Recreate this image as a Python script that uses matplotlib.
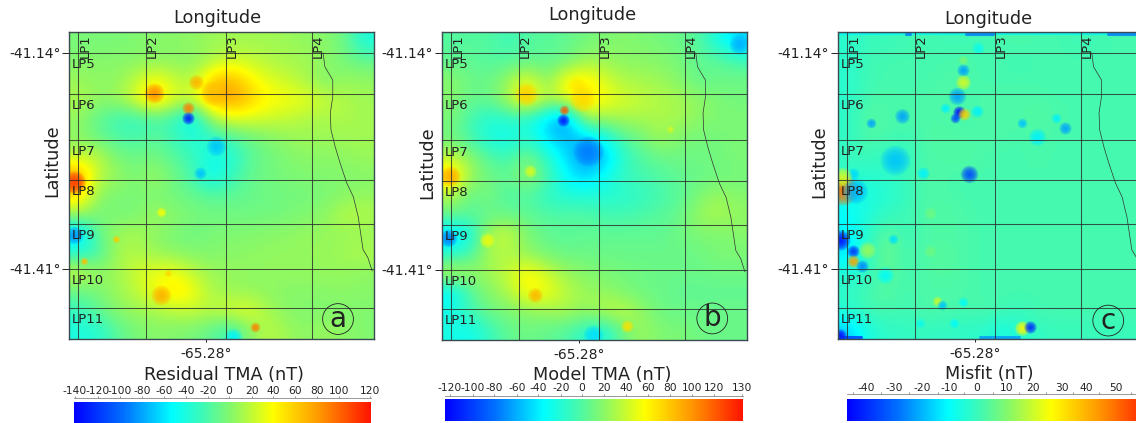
import matplotlib
matplotlib.use("Agg")
import numpy as np
from matplotlib import pyplot as plt
from matplotlib.colors import LinearSegmentedColormap, Normalize

# grid rows run north to south, nT
residual_grid = [
    [-3, -3, -3, 0, 2, 3, 5, 8, 10, 10, 10, 8, 5, 2, -8, -40],
    [0, 2, 2, 2, 3, 3, 2, 12, 25, 22, 15, 12, 10, 5, -5, -10],
    [8, 4, 4, 18, 40, 22, 15, 62, 72, 45, 30, 22, 12, -3, 8, 5],
    [14, 6, 8, 30, 68, 28, 28, 72, 82, 62, 42, 38, 32, 22, 14, 10],
    [6, -12, -25, -28, -22, -25, -55, 10, 30, 28, 24, 20, 14, 12, 14, 10],
    [4, -8, -18, -22, -12, -25, -38, -32, -20, -8, 0, 6, 10, 8, 10, 10],
    [18, 20, -3, -8, -5, -15, -25, -45, -38, -15, -6, 0, 3, 3, 5, 8],
    [85, 18, 8, -3, 10, -6, -22, -50, -28, -10, -5, -2, 0, 0, 0, 2],
    [55, 4, -2, -3, -2, -6, -10, -15, -12, -10, -7, -5, -5, -2, 2, 5],
    [10, -3, -3, -3, 10, 3, -2, -6, -6, -6, -6, -3, 0, 4, 18, 14],
    [-70, -10, 8, 12, 3, -3, -7, -3, 0, 0, 2, 4, 6, 7, 7, 7],
    [-35, -25, 12, 14, 8, 3, 0, 0, 2, 4, 6, 6, 7, 7, 10, 14],
    [25, 8, 8, 25, 32, 35, 18, 8, 7, 6, 6, 6, 6, 7, 7, 4],
    [-8, -3, 8, 18, 38, 55, 38, 12, 7, 4, 4, 2, 2, 2, 4, 2],
    [-28, -12, 3, 8, 12, 18, 22, 18, 30, 32, 10, 2, 0, 0, 0, 0],
    [-40, -35, -15, -3, 2, 0, -3, -12, -28, 3, 18, 8, 3, 8, 3, 0],
]
model_grid = [
    [0, 0, 0, -8, 0, 2, 5, 12, 15, 18, 15, 12, 8, 0, -25, -50],
    [5, 5, 0, 0, 5, 5, 8, 25, 25, 20, 20, 18, 12, 5, 5, -5],
    [20, 8, 8, 25, 50, 15, 60, 65, 45, 30, 28, 25, 18, 5, 8, 10],
    [18, 8, 8, 30, 75, 30, 50, 75, 55, 45, 38, 32, 28, 22, 15, 12],
    [15, -5, -20, -15, -20, -45, -75, 25, 25, 28, 28, 30, 28, 20, 15, 15],
    [10, -5, -25, -30, -15, -45, -55, -55, -30, 0, 12, 28, 15, 12, 12, 15],
    [35, 20, 0, -8, 15, -15, -45, -70, -60, -15, 0, 8, 10, 10, 12, 15],
    [80, 25, 10, 5, 25, 0, -35, -50, -30, -10, -5, 0, 5, 8, 10, 12],
    [30, 5, 15, -5, 0, -15, -20, -20, -20, -18, -12, -5, 2, 15, 25, 18],
    [10, 2, 5, 8, 5, 0, 0, 0, -5, -5, -2, 2, 8, 25, 30, 22],
    [-50, -25, 35, 40, 15, 5, 2, 5, 5, 5, 5, 5, 10, 15, 15, 18],
    [-20, -5, 30, 30, 20, 12, 8, 8, 8, 8, 8, 8, 8, 10, 15, 15],
    [40, 25, 25, 40, 60, 40, 25, 18, 15, 12, 10, 8, 8, 8, 10, 10],
    [-40, 0, 20, 30, 60, 55, 35, 25, 22, 15, 10, 8, 5, 5, 5, 5],
    [-25, -5, 10, 15, 20, 25, 30, 22, 35, 38, 22, 10, 8, 8, 8, 8],
    [-25, -30, -10, 5, 10, 5, 0, -15, -25, 10, 25, 15, 15, 10, 8, 8],
]
misfit_grid = [
    [-3, 0, 0, 1, 2, 1, 1, 1, 2, 3, 2, 2, 1, 1, 2, 2],
    [-3, 1, 2, 2, 2, 2, 3, 2, 2, 1, 2, 2, 2, 2, 2, 2],
    [-3, 1, 2, 2, 2, 3, 3, 2, 2, 2, 2, 2, 2, 2, 2, 2],
    [-3, 2, 3, 2, 3, 3, 2, 3, 3, 3, 3, 2, 2, 2, 2, 2],
    [-2, 4, 3, 2, 3, 3, 2, 3, 3, 3, 4, 3, 2, 2, 2, 2],
    [-2, 3, 3, 1, 3, 4, 3, 3, 3, 2, 3, 2, 2, 2, 2, 2],
    [0, 1, -2, -2, 3, 3, 4, 3, 2, 2, 3, 2, 2, 2, 2, 2],
    [-3, -3, -2, 0, 3, 3, 2, 2, 2, 2, 2, 2, 2, 2, 2, 2],
    [-8, -6, -4, -1, 3, 3, 2, 2, 2, 2, 2, 2, 2, 2, 2, 2],
    [-10, -5, -1, 1, 3, 4, 3, 2, 2, 2, 2, 2, 2, 2, 2, 2],
    [-12, -3, 5, 0, 3, 3, 3, 2, 2, 2, 2, 2, 2, 2, 2, 2],
    [-15, -2, 8, 2, 3, 5, 3, 2, 2, 2, 2, 2, 2, 2, 2, 2],
    [-4, -3, 6, 1, 3, 4, 3, 2, 2, 2, 2, 2, 2, 2, 2, 2],
    [-2, 2, 4, 2, 3, 3, 3, 2, 2, 2, 2, 2, 2, 2, 2, 2],
    [-3, 1, 3, 1, 3, 3, 2, 3, 2, 0, 2, 2, 2, 2, 2, 2],
    [-18, -6, -2, -1, -1, -1, -2, -2, -6, -4, -1, 0, 0, 0, 0, 0],
]

# small anomalies too tight for the grids: lon, lat, nT, radius in px
residual_lon = [-65.366, -65.296, -65.268, -65.310, -65.310, -65.263, -65.290, -65.497, -65.497, -65.429, -65.481, -65.354, -65.343, -65.200, -65.354, -65.235]
residual_lat = [-41.190, -41.176, -41.190, -41.209, -41.222, -41.257, -41.290, -41.301, -41.368, -41.372, -41.400, -41.443, -41.415, -41.483, -41.339, -41.495]
residual_val = [85, 70, 65, 90, -130, -70, -70, 115, -85, 60, 65, 72, 55, 90, 38, -55]
residual_rad = [8, 6, 10, 5, 5, 8, 5, 9, 7, 3, 3, 8, 3, 4, 4, 7]

model_lon = [-65.367, -65.283, -65.275, -65.305, -65.306, -65.264, -65.492, -65.495, -65.352, -65.200, -65.431, -65.129, -65.016, -65.360, -65.256]
model_lat = [-41.191, -41.181, -41.197, -41.211, -41.224, -41.262, -41.293, -41.370, -41.441, -41.480, -41.373, -41.235, -41.129, -41.287, -41.491]
model_val = [75, 65, 72, 120, -115, -75, 90, -75, 85, 68, 52, 42, -60, 45, -45]
model_rad = [9, 7, 10, 4, 5, 12, 8, 7, 6, 5, 6, 3, 8, 5, 8]

misfit_lon = [-65.299, -65.299, -65.299, -65.310, -65.306, -65.312, -65.298, -65.277, -65.329, -65.400,
              -65.451, -65.202, -65.146, -65.131, -65.178, -65.411, -65.480, -65.290, -65.365, -65.499,
              -65.499, -65.477, -65.502, -65.480, -65.480, -65.466, -65.414, -65.458, -65.343, -65.334,
              -65.299, -65.315, -65.202, -65.189, -65.370, -65.274, -65.354, -65.354, -65.428, -65.502]
misfit_lat = [-41.161, -41.176, -41.149, -41.194, -41.214, -41.222, -41.217, -41.213, -41.209, -41.219,
              -41.228, -41.228, -41.222, -41.234, -41.245, -41.274, -41.291, -41.292, -41.290, -41.311,
              -41.295, -41.313, -41.374, -41.388, -41.400, -41.406, -41.372, -41.386, -41.450, -41.455,
              -41.451, -41.478, -41.484, -41.483, -41.477, -41.134, -41.340, -41.388, -41.418, -41.493]
misfit_val = [-22, 22, 10, -22, -47, -35, 35, -12, -12, -22,
              -22, -18, -12, -22, -12, -18, -15, -35, -12, 50,
              22, -20, -45, -38, 42, -25, -14, 14, 20, -18,
              -10, -10, 28, -40, -8, -8, 8, 8, -10, -45]
misfit_rad = [5, 6, 4, 7, 5, 4, 5, 5, 4, 6,
              4, 4, 4, 5, 7, 12, 5, 7, 5, 12,
              8, 10, 8, 5, 5, 5, 4, 7, 4, 4,
              4, 4, 6, 5, 4, 5, 5, 5, 7, 5]

# thin blue edge streaks in the misfit panel: lon from, lon to, lat, nT
streak_from = [-65.506, -65.394, -65.295, -65.060, -65.506, -65.272]
streak_to = [-65.003, -65.386, -65.250, -65.003, -65.468, -65.207]
streak_lat = [-41.1155, -41.116, -41.116, -41.116, -41.495, -41.495]
streak_val = [-12, -30, -30, -30, -42, -25]

line_lons = [-65.491, -65.379, -65.247, -65.105]
line_lats = [-41.14, -41.191, -41.249, -41.299, -41.354, -41.41, -41.459]
lon_names = ["LP1", "LP2", "LP3", "LP4"]
lat_names = ["LP5", "LP6", "LP7", "LP8", "LP9", "LP10", "LP11"]

coast_lon = [-65.087, -65.084, -65.071, -65.071, -65.075, -65.074, -65.067, -65.059, -65.048, -65.037, -65.029, -65.021, -65.013, -65.006]
coast_lat = [-41.14, -41.1575, -41.174, -41.195, -41.215, -41.236, -41.2575, -41.2775, -41.3025, -41.32, -41.345, -41.386, -41.396, -41.4125]

residual_ticks = ["-140", "-120", "-100", "-80", "-60", "-40", "-20", "0", "20", "40", "60", "80", "100", "120"]
model_ticks = ["-120", "-100", "-80", "-60", "-40", "-20", "0", "20", "40", "60", "80", "100", "120", "130"]
misfit_ticks = ["-40", "-30", "-20", "-10", "0", "10", "20", "30", "40", "50"]

W, H = 1136, 423
LON0, LON1, LAT0, LAT1 = -65.506, -65.003, -41.4975, -41.114

cmap = LinearSegmentedColormap.from_list("tma", [(p, tuple(c / 255 for c in rgb)) for p, rgb in [
    (0.0, (0, 0, 255)), (0.17, (0, 115, 255)), (0.33, (0, 255, 255)), (0.43, (60, 250, 185)),
    (0.53, (135, 248, 105)), (0.67, (255, 255, 0)), (0.83, (255, 150, 0)), (1.0, (255, 20, 0))]])

fig = plt.figure(figsize=(W / 100, H / 100), dpi=100)
ink = "#222222"


def px_axes(left, top, right, bottom):
    return fig.add_axes([left / W, 1 - bottom / H, (right - left) / W, (bottom - top) / H])


def put(x, y, s, size, **kw):
    fig.text(x / W, 1 - y / H, s, fontsize=size, color=ink, ha="center", va="center", **kw)


def panel(left, top, bottom, grid, lons, lats, vals, rads, vmin, vmax, letter, lx, ly):
    right = left + 305
    ax = px_axes(left, top, right, bottom)
    norm = Normalize(vmin, vmax)
    ax.imshow(np.array(grid, dtype=float), cmap=cmap, norm=norm, extent=[LON0, LON1, LAT0, LAT1],
              origin="upper", aspect="auto", interpolation="bicubic", zorder=1)
    # soft edged blobs, stacked discs
    for lo, la, v, r in zip(lons, lats, vals, rads):
        for f in [1.25, 1.1, 0.95, 0.8, 0.65, 0.5, 0.35, 0.2]:
            ax.scatter([lo], [la], s=(2 * r * f * 0.72) ** 2, color=cmap(norm(v)), alpha=0.23,
                       linewidths=0, zorder=2)
    for x in line_lons:
        ax.axvline(x, color="#2a2a2a", lw=0.75, alpha=0.8, zorder=3)
    for y in line_lats:
        ax.axhline(y, color="#2a2a2a", lw=0.75, alpha=0.8, zorder=3)
    ax.plot(coast_lon, coast_lat, color="#333333", lw=0.5, zorder=3)
    ax.set_xlim(LON0, LON1)
    ax.set_ylim(LAT0, LAT1)
    ax.set_xticks([-65.28], ["-65.28°"])
    ax.set_yticks([-41.14, -41.41], ["-41.14°", "-41.41°"])
    ax.tick_params(axis="y", length=5, width=0.7, pad=1, labelsize=10, colors=ink)
    ax.tick_params(axis="x", length=2.5, width=0.7, pad=3, labelsize=10, colors=ink)
    for sp in ax.spines.values():
        sp.set_color("#3a4a50")
        sp.set_linewidth(1.0)
    for x, name in zip(line_lons, lon_names):
        off = 0.0107 if name != "LP1" else 0.0125
        ax.text(x + off, -41.1315, name, rotation=90, fontsize=9.5, color=ink, ha="center", va="center", zorder=4)
    for y, name in zip(line_lats, lat_names):
        ax.text(LON0 + 0.005, y - 0.0145, name, fontsize=9.5, color=ink, ha="left", va="center", zorder=4)
    ax.text(lx, ly, letter, transform=ax.transAxes, fontsize=20, color=ink, ha="center", va="center", zorder=5,
            bbox=dict(boxstyle="circle,pad=0.05", fc="none", ec=ink, lw=0.6))
    return ax, norm


def colorbar(left, right, top, bottom, line_y, label_y, labels, xs, minor=None):
    ax = px_axes(left, top, right, bottom)
    ax.imshow(np.linspace(0, 1, 256)[None, :], cmap=cmap, aspect="auto", extent=[left, right, 0, 1])
    ax.axis("off")
    tx = px_axes(left, line_y, right, line_y + 1)
    tx.set_xlim(left, right)
    tx.set_yticks([])
    for name in ["left", "right", "bottom"]:
        tx.spines[name].set_visible(False)
    tx.spines["top"].set_color("#888888")
    tx.spines["top"].set_linewidth(0.6)
    tx.xaxis.tick_top()
    tx.set_xticks(minor if minor is not None else xs, [])
    tx.tick_params(axis="x", length=1.5, width=0.5, color="#666666")
    for x, s in zip(xs, labels):
        put(x, label_y, s, 7.7)


axa, norma = panel(69, 32, 339, residual_grid, residual_lon, residual_lat, residual_val, residual_rad, -141, 129, "a", 0.882, 0.065)
axb, normb = panel(441.7, 32, 340, model_grid, model_lon, model_lat, model_val, model_rad, -124.5, 146, "b", 0.887, 0.07)
axc, normc = panel(837.7, 32, 339, misfit_grid, misfit_lon, misfit_lat, misfit_val, misfit_rad, -47, 63.6, "c", 0.887, 0.06)

for a, b, y, v in zip(streak_from, streak_to, streak_lat, streak_val):
    axc.plot([a, b], [y, y], color=cmap(normc(v)), lw=2.2, alpha=0.7, solid_capstyle="round", zorder=2)

put(217, 18, "Longitude", 12.7)
put(592, 15, "Longitude", 12.7)
put(988, 19, "Longitude", 12.7)
put(52, 161, "Latitude", 12.7, rotation=90)
put(427, 163, "Latitude", 12.7, rotation=90)
put(819, 162, "Latitude", 12.7, rotation=90)
put(224, 375, "Residual TMA (nT)", 12.7)
put(602, 375, "Model TMA (nT)", 12.7)
put(989, 374, "Misfit (nT)", 12.7)

colorbar(74, 371, 402, 424, 398, 391, residual_ticks,
         [75, 98, 120, 142, 164, 186, 208, 229, 252, 273, 295, 317, 339, 370])
colorbar(445.3, 743.3, 399, 421, 396, 388, model_ticks,
         [450, 473, 494, 517, 538, 561, 582, 604, 626, 648, 670, 692, 714, 742])
colorbar(847.3, 1152, 399, 421, 394, 388, misfit_ticks,
         [866, 894, 922, 949, 977, 1007, 1033, 1062, 1086, 1116],
         minor=[853, 881, 909, 938, 964, 993, 1019, 1046, 1073, 1099, 1131])

plt.savefig("out.png", dpi=100)
